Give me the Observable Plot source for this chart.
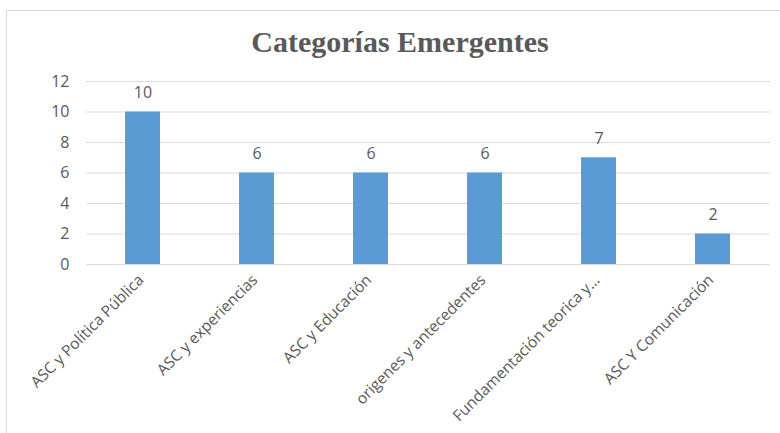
<!DOCTYPE html>
<html><head><meta charset="utf-8">
<script src="https://cdn.jsdelivr.net/npm/d3@7"></script>
<script src="https://cdn.jsdelivr.net/npm/@observablehq/plot@0.6"></script>
<style>
html,body{margin:0;padding:0;background:#fff;}
#wrap{position:relative;width:780px;height:433px;overflow:hidden;}
#frame{position:absolute;left:6px;top:10px;width:800px;height:500px;border:1.5px solid #d9d9d9;box-sizing:border-box;}
#title{position:absolute;left:0;width:800px;top:25px;text-align:center;font-family:"Liberation Serif","DejaVu Serif",serif;font-weight:bold;font-size:30px;color:#595959;}
#chart{position:absolute;left:0;top:0;}
</style></head>
<body>
<div id="wrap"><div id="frame"></div><div id="title">Categorías Emergentes</div><div id="chart"></div></div>
<script>
const categories = ["ASC y Política Pública","ASC y experiencias","ASC y Educación","origenes y antecedentes","Fundamentación teorica y...","ASC Y Comunicación"];
const values = [10,6,6,6,7,2];
const yTicks = [0,2,4,6,8,10,12];
const data = categories.map((c,i)=>({cat:c, v:values[i]}));
const font = "'Open Sans','Liberation Sans',sans-serif";
const chart = Plot.plot({
  width:780, height:433,
  marginLeft:86, marginRight:10, marginTop:81, marginBottom:169,
  style:{fontFamily:font, fontSize:"15px", color:"#595959", background:"transparent"},
  x:{domain:categories, paddingInner:0.69, paddingOuter:0.345, label:null},
  y:{domain:[0,12], label:null},
  marks:[
    Plot.gridY(yTicks,{stroke:"#d9d9d9", strokeOpacity:1, strokeWidth:1}),
    Plot.barY(data,{x:"cat", y:"v", fill:"#5B9BD5"}),
    Plot.text(data,{x:"cat", y:"v", text:d=>String(d.v), dy:-19, fill:"#595959", fontSize:16}),
    Plot.axisY(yTicks,{tickSize:0, tickPadding:17, fontSize:16, fill:"#595959", label:null}),
    Plot.axisX({tickSize:0, tickRotate:-45, tickPadding:13, fontSize:15.5, fill:"#595959", label:null, dx:-2})
  ]
});
document.getElementById("chart").appendChild(chart);
</script>
</body></html>
